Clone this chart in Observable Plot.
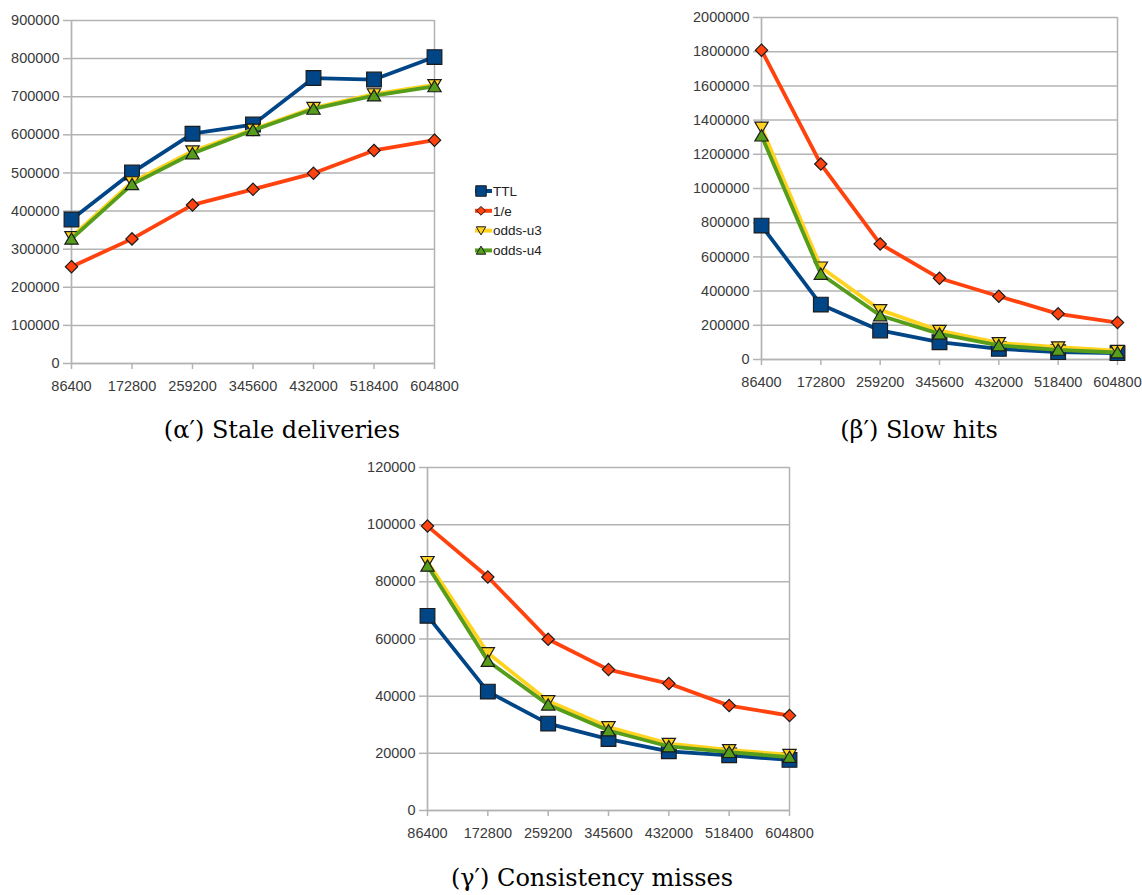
<!DOCTYPE html>
<html><head><meta charset="utf-8">
<script src="https://cdn.jsdelivr.net/npm/d3@7"></script>
<script src="https://cdn.jsdelivr.net/npm/@observablehq/plot@0.6"></script>
<style>
html,body{margin:0;padding:0;background:#fff}
body{width:1142px;height:895px;position:relative;overflow:hidden}
.chart{position:absolute}
.cap{position:absolute;font-family:"DejaVu Serif","Liberation Serif",serif;font-size:24px;line-height:1;color:#000;white-space:nowrap;transform:translateX(-50%)}
</style></head><body>
<div id="ca" class="chart" style="left:0px;top:0px"></div>
<div id="cb" class="chart" style="left:680px;top:0px"></div>
<div id="cc" class="chart" style="left:340px;top:450px"></div>
<div id="legend" class="chart" style="left:460px;top:175px"></div>
<div class="cap" style="left:282px;top:418px">(α′) Stale deliveries</div>
<div class="cap" style="left:919px;top:418px">(β′) Slow hits</div>
<div class="cap" style="left:592px;top:866px">(γ′) Consistency misses</div>
<script>
// ---- data ----
const xValues = [86400, 172800, 259200, 345600, 432000, 518400, 604800];
const seriesNames = ["TTL", "1/e", "odds-u3", "odds-u4"];
const seriesColors = ["#004586", "#ff420e", "#ffd320", "#579d1c"];

const staleTTL = [378000, 501000, 603000, 627000, 749000, 745000, 804000];
const staleE   = [254000, 327000, 416000, 457000, 499000, 559000, 586000];
const staleU3  = [332000, 476000, 557000, 614000, 671000, 707000, 731000];
const staleU4  = [327000, 470000, 551000, 612000, 668000, 703000, 727000];
const staleTicks = [0, 100000, 200000, 300000, 400000, 500000, 600000, 700000, 800000, 900000];

const slowTTL = [783000, 321000, 170000, 101000, 62000, 43000, 37000];
const slowE   = [1809000, 1143000, 676000, 475000, 370000, 267000, 216000];
const slowU3  = [1357000, 539000, 290000, 169000, 97000, 72000, 52000];
const slowU4  = [1309000, 500000, 257000, 150000, 82000, 56000, 41000];
const slowTicks = [0, 200000, 400000, 600000, 800000, 1000000, 1200000, 1400000, 1600000, 1800000, 2000000];

const missTTL = [68100, 41600, 30400, 25000, 20700, 19300, 17700];
const missE   = [99500, 81700, 59900, 49300, 44400, 36700, 33200];
const missU3  = [87000, 55100, 38300, 29200, 23400, 21200, 19500];
const missU4  = [85600, 52300, 37000, 28000, 22400, 20400, 18700];
const missTicks = [0, 20000, 40000, 60000, 80000, 100000, 120000];

// ---- symbols ----
const k = v => Math.sqrt(v / Math.PI);
const symSquare = {draw(c, s){const r = k(s)*1.05; c.moveTo(-r,-r); c.lineTo(r,-r); c.lineTo(r,r); c.lineTo(-r,r); c.closePath();}};
const symDiamond = {draw(c, s){const r = k(s)*0.88; c.moveTo(0,-r); c.lineTo(r,0); c.lineTo(0,r); c.lineTo(-r,0); c.closePath();}};
const symTriDown = {draw(c, s){const r = k(s)*0.95; c.moveTo(-r,-r*0.8); c.lineTo(r,-r*0.8); c.lineTo(0,r*0.9); c.closePath();}};
const symTriUp = {draw(c, s){const r = k(s)*0.95; c.moveTo(0,-r*0.9); c.lineTo(r,r*0.8); c.lineTo(-r,r*0.8); c.closePath();}};
const seriesSymbols = [symSquare, symDiamond, symTriDown, symTriUp];

const grid = "#b3b3b3";
const fmt = d3.format("d");

function makeChart(id, series, yTicks, m) {
  const rows = [];
  series.forEach((vals, si) => vals.forEach((v, i) => rows.push({s: si, x: xValues[i], y: v})));
  const marks = [
    Plot.gridY(yTicks, {stroke: grid, strokeOpacity: 1, strokeWidth: 1.5}),
    Plot.ruleX([xValues[xValues.length - 1]], {stroke: grid, strokeWidth: 1.5}),
    Plot.axisY(yTicks, {tickSize: 8, tickPadding: 4, tickFormat: fmt, stroke: grid, strokeOpacity: 1, strokeWidth: 1.5, fill: "#3a3a3a", label: null}),
    Plot.axisX(xValues, {tickSize: 6, tickPadding: 11, tickFormat: fmt, stroke: grid, strokeOpacity: 1, strokeWidth: 1.5, fill: "#3a3a3a", label: null}),
    Plot.ruleX([xValues[0]], {stroke: grid, strokeWidth: 1.7}),
    Plot.ruleY([yTicks[0]], {stroke: grid, strokeWidth: 1.7})
  ];
  seriesNames.forEach((name, si) => {
    const d = rows.filter(r => r.s === si);
    marks.push(Plot.line(d, {x: "x", y: "y", stroke: seriesColors[si], strokeWidth: 3.8, strokeLinejoin: "round"}));
    marks.push(Plot.dot(d, {x: "x", y: "y", symbol: seriesSymbols[si], r: 7, fill: seriesColors[si], stroke: "#1b1b1b", strokeWidth: 1.2}));
  });
  const p = Plot.plot({
    width: m.width, height: m.height,
    marginLeft: m.left, marginRight: m.right, marginTop: m.top, marginBottom: m.bottom,
    style: {fontSize: "14.5px", fontFamily: "'Liberation Sans', Arial, sans-serif", background: "transparent", overflow: "visible"},
    x: {type: "linear", domain: [xValues[0], xValues[xValues.length - 1]]},
    y: {domain: [yTicks[0], yTicks[yTicks.length - 1]]},
    marks
  });
  document.getElementById(id).appendChild(p);
}

makeChart("ca", [staleTTL, staleE, staleU3, staleU4], staleTicks, {width: 464, height: 400, left: 71, right: 30, top: 20, bottom: 37});
makeChart("cb", [slowTTL, slowE, slowU3, slowU4], slowTicks, {width: 462, height: 400, left: 81, right: 25, top: 17, bottom: 41});
makeChart("cc", [missTTL, missE, missU3, missU4], missTicks, {width: 479, height: 400, left: 87, right: 30, top: 17, bottom: 40});

// ---- legend ----
const lg = d3.select("#legend").append("svg").attr("width", 120).attr("height", 90);
seriesNames.forEach((name, i) => {
  const y = 16 + i * 19.8;
  const g = lg.append("g").attr("transform", `translate(0,${y})`);
  g.append("line").attr("x1", 15).attr("x2", 32).attr("y1", 0).attr("y2", 0)
    .attr("stroke", seriesColors[i]).attr("stroke-width", 4);
  const path = d3.path();
  seriesSymbols[i].draw(path, Math.PI * 25);
  g.append("path").attr("d", path.toString()).attr("transform", "translate(21,0)")
    .attr("fill", seriesColors[i]).attr("stroke", "#1b1b1b").attr("stroke-width", 1);
  g.append("text").attr("x", 33).attr("y", 0).attr("dy", "0.35em")
    .attr("font-family", "'Liberation Sans', Arial, sans-serif").attr("font-size", 13.5)
    .attr("fill", "#222").text(name);
});
</script>
</body></html>
